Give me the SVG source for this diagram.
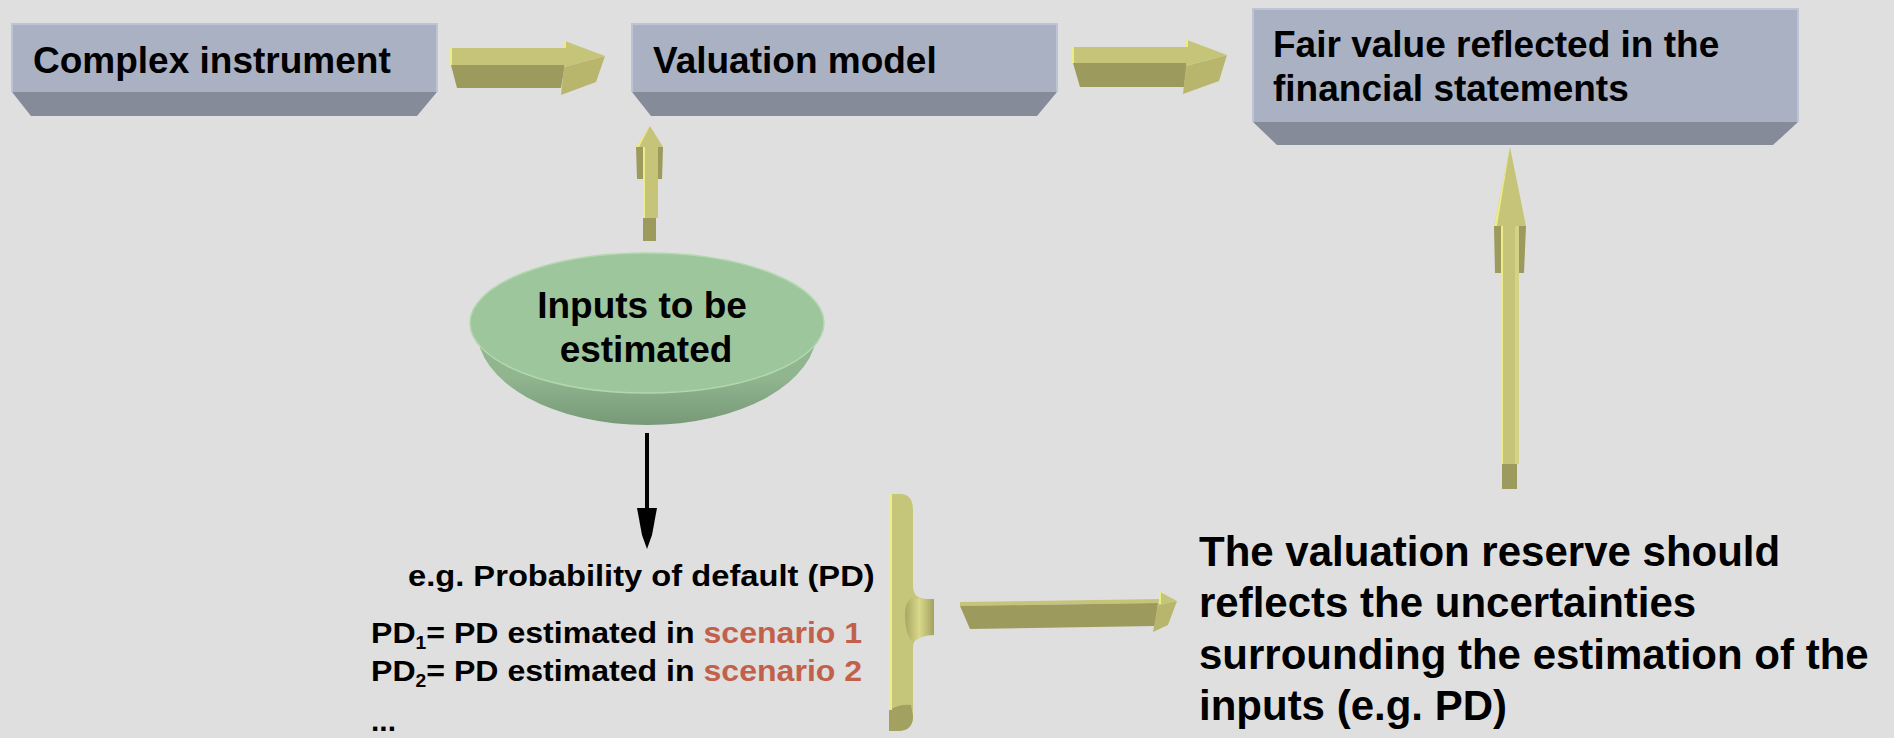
<svg xmlns="http://www.w3.org/2000/svg" width="1894" height="738" viewBox="0 0 1894 738">
<defs>
<style>
.face{fill:#a9b1c3}
.bevel{fill:#868b9a}
.edge{stroke:#bcc4d6;stroke-width:2;fill:none}
.t{font-family:"Liberation Sans",Arial,sans-serif;font-weight:bold;fill:#000}
.box{font-size:37px}
.big{font-size:42px}
.sm{font-size:30px}
.red{fill:#c2614b}
.lt{fill:#c5c479}
.dk{fill:#9c9a5c}
.md{fill:#b8b66c}
.hl{fill:#eeec88}
</style>
<linearGradient id="side" x1="0" y1="0" x2="0" y2="1">
<stop offset="0.5" stop-color="#90b58f"/>
<stop offset="1" stop-color="#789977"/>
</linearGradient>
<linearGradient id="bump" x1="0" y1="0" x2="1" y2="0">
<stop offset="0" stop-color="#a8a663"/>
<stop offset="0.5" stop-color="#d9d98a"/>
<stop offset="1" stop-color="#a3a160"/>
</linearGradient>
</defs>
<rect width="1894" height="738" fill="#dfdfdf"/>

<g id="box-complex">
<polygon class="bevel" points="12,92 437,92 417,116 31,116"/>
<rect class="face" x="12" y="24" width="425" height="68"/>
<path class="edge" d="M12,92 V24 H437 V92"/>
<text class="t box" x="33" y="73">Complex instrument</text>
</g>

<g id="box-valuation">
<polygon class="bevel" points="632,92 1057,92 1037,116 651,116"/>
<rect class="face" x="632" y="24" width="425" height="68"/>
<path class="edge" d="M632,92 V24 H1057 V92"/>
<text class="t box" x="653" y="73">Valuation model</text>
</g>

<g id="box-fairvalue">
<polygon class="bevel" points="1253,122 1798,122 1773,145 1277,145"/>
<rect class="face" x="1253" y="9" width="545" height="113"/>
<path class="edge" d="M1253,122 V9 H1798 V122"/>
<text class="t box" x="1273" y="57">Fair value reflected in the</text>
<text class="t box" x="1273" y="101">financial statements</text>
</g>

<g id="node-inputs">
<path d="M477,330 A170,95 0 0,0 817,330 Z" fill="url(#side)"/>
<ellipse cx="647" cy="323" rx="177" ry="70" fill="#9ec69d" stroke="#b2d8ad" stroke-width="1.5"/>
<text class="t box" x="642" y="318" text-anchor="middle">Inputs to be</text>
<text class="t box" x="646" y="362" text-anchor="middle">estimated</text>
</g>

<g id="text-pd">
<text class="t sm" transform="translate(408,586) scale(1.09,1)" x="0" y="0">e.g. Probability of default (PD)</text>
<text class="t sm" transform="translate(371,643) scale(1.07,1)" x="0" y="0">PD<tspan font-size="18" dy="6">1</tspan><tspan dy="-6">= PD estimated in </tspan><tspan class="red">scenario 1</tspan></text>
<text class="t sm" transform="translate(371,681) scale(1.07,1)" x="0" y="0">PD<tspan font-size="18" dy="6">2</tspan><tspan dy="-6">= PD estimated in </tspan><tspan class="red">scenario 2</tspan></text>
<text class="t sm" x="371" y="731">...</text>
</g>

<g id="brace">
<path fill="#c6c67a" d="M889,494 H900 Q913,494 913,510 V586 Q913,598 925,599 H934 V635 H925 Q913,636 913,648 V716 Q913,731 898,731 H889 Z"/>
<path fill="url(#bump)" d="M913,598 Q920,599 934,599 V635 Q920,635 913,643 Q905,634 905,616 Q905,600 913,598 Z"/>
<path fill="#a3a160" d="M889,710 Q900,704 911,705 L913,716 Q913,731 898,731 H889 Z"/>
<rect class="hl" x="889" y="494" width="3" height="216"/>
</g>

<g id="text-reserve">
<text class="t big" x="1199" y="566">The valuation reserve should</text>
<text class="t big" x="1199" y="617">reflects the uncertainties</text>
<text class="t big" x="1199" y="669">surrounding the estimation of the</text>
<text class="t big" x="1199" y="720">inputs (e.g. PD)</text>
</g>

<g id="connectors">
<g id="arrow-complex-valuation">
<polygon class="lt" points="451,48 565,48 565,65 451,65"/>
<polygon class="dk" points="451,65 565,65 561,88 457,88"/>
<rect class="hl" x="450" y="48" width="2" height="17"/>
<polygon class="md" points="564,67 605,56 596,82 561,95"/>
<polygon class="lt" points="565,41 605,56 564,67"/>
<rect class="hl" x="564" y="41" width="2" height="7"/>
</g>
<g id="arrow-valuation-fair">
<polygon class="lt" points="1073,47 1187,47 1187,63 1073,63"/>
<polygon class="dk" points="1073,63 1187,63 1184,87 1080,87"/>
<rect class="hl" x="1072" y="47" width="2" height="16"/>
<polygon class="md" points="1186,66 1227,55 1219,81 1183,94"/>
<polygon class="lt" points="1187,40 1227,55 1186,66"/>
<rect class="hl" x="1186" y="40" width="2" height="7"/>
</g>
<g id="arrow-inputs-valuation">
<polygon class="dk" points="636,147 643,147 643,179 637,179"/>
<polygon class="dk" points="657,147 663,147 662,179 657,179"/>
<rect class="lt" x="643" y="147" width="15" height="71"/>
<rect class="hl" x="643" y="147" width="2" height="71"/>
<rect class="dk" x="643" y="218" width="13" height="23"/>
<polygon class="lt" points="636,147 650,126 663,147"/>
<polygon class="hl" points="636,147 650,126 639,147"/>
</g>
<g id="arrow-reserve-fair">
<polygon class="dk" points="1494,226 1501,226 1501,273 1495,273"/>
<polygon class="dk" points="1519,226 1526,226 1524,273 1519,273"/>
<rect class="lt" x="1501" y="226" width="18" height="238"/>
<rect class="hl" x="1501" y="226" width="2" height="238"/>
<rect fill="#d3d385" x="1515" y="226" width="4" height="238"/>
<rect class="dk" x="1502" y="464" width="15" height="25"/>
<polygon class="lt" points="1494,226 1510,147 1526,226"/>
<polygon class="hl" points="1494,226 1510,147 1497,226"/>
</g>
<g id="arrow-inputs-pd">
<line x1="647" y1="433" x2="647" y2="512" stroke="#000" stroke-width="4"/>
<polygon fill="#000" points="637,508 657,508 652,535 647,549 642,535"/>
</g>
<g id="arrow-brace-reserve">
<polygon class="lt" points="960,602 1160,599 1158,603 960,606"/>
<polygon class="dk" points="960,606 1158,603 1155,626 970,629"/>
<polygon class="md" points="1158,604 1177,601 1168,625 1153,632"/>
<polygon class="lt" points="1160,592 1177,601 1158,606"/>
<rect class="hl" x="1159" y="592" width="2" height="12"/>
</g>
</g>
</svg>
